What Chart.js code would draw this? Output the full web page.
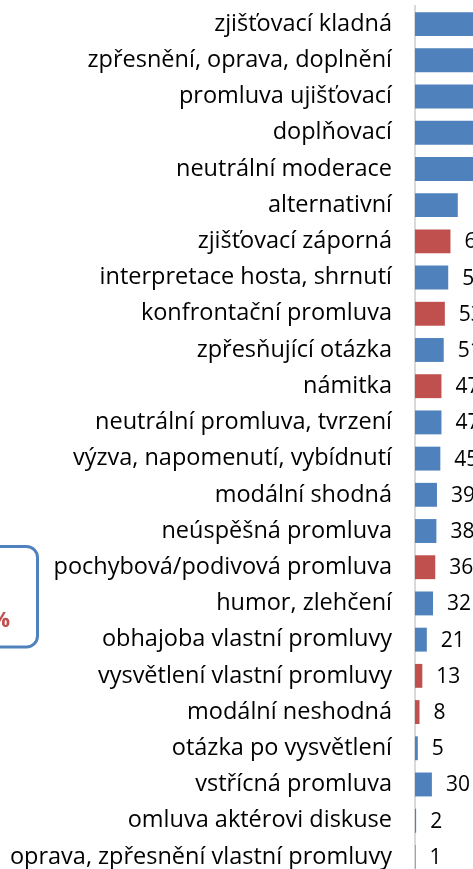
<!DOCTYPE html>
<html>
<head>
<meta charset="utf-8">
<script src="https://cdn.jsdelivr.net/npm/chart.js@4/dist/chart.umd.min.js"></script>
<style>
    html, body { margin: 0; padding: 0; background: #fff; overflow: hidden; }
    #wrap { position: relative; width: 473px; height: 869px; overflow: hidden; }
    #chart { position: absolute; left: 0; top: 0; }
</style>
</head>
<body>
<div id="wrap">
    <canvas id="chart" width="473" height="875"></canvas>
</div>
<script>
    let categories = [
        'zjišťovací kladná', 'zpřesnění, oprava, doplnění', 'promluva ujišťovací', 'doplňovací',
        'neutrální moderace', 'alternativní', 'zjišťovací záporná', 'interpretace hosta, shrnutí',
        'konfrontační promluva', 'zpřesňující otázka', 'námitka', 'neutrální promluva, tvrzení',
        'výzva, napomenutí, vybídnutí', 'modální shodná', 'neúspěšná promluva',
        'pochybová/podivová promluva', 'humor, zlehčení', 'obhajoba vlastní promluvy',
        'vysvětlení vlastní promluvy', 'modální neshodná', 'otázka po vysvětlení',
        'vstřícná promluva', 'omluva aktérovi diskuse', 'oprava, zpřesnění vlastní promluvy'
    ];
    let values = [260, 210, 170, 150, 120, 76, 63, 59, 53, 51, 47, 47, 45, 39, 38, 36, 32, 21, 13, 8, 5, 30, 2, 1];
    // labels shown next to the bars (top ones fall outside the crop)
    let valueLabels = [null, null, null, null, null, null, '63', '59', '53', '51', '47', '47', '45', '39', '38', '36', '32', '21', '13', '8', '5', '30', '2', '1'];
    let redCategories = ['zjišťovací záporná', 'konfrontační promluva', 'námitka',
        'pochybová/podivová promluva', 'vysvětlení vlastní promluvy', 'modální neshodná'];

    let fontFamily = '"Open Sans", sans-serif';
    let fontSize = 23.5;

    let barLabels = {
        id: 'barLabels',
        afterDatasetsDraw: function (chart) {
            let ctx = chart.ctx;
            let meta = chart.getDatasetMeta(0);
            ctx.save();
            ctx.font = '21px ' + fontFamily;
            ctx.fillStyle = '#000';
            ctx.textBaseline = 'middle';
            ctx.textAlign = 'left';
            meta.data.forEach(function (bar, i) {
                if (valueLabels[i] === null) return;
                ctx.fillText(valueLabels[i], bar.x + 14, bar.y + 1);
            });
            ctx.restore();
        }
    };

    // the cut-off text box on the left edge of the crop
    let noteBox = {
        id: 'noteBox',
        afterDraw: function (chart) {
            let ctx = chart.ctx;
            ctx.save();
            ctx.strokeStyle = '#4f81bd';
            ctx.lineWidth = 3;
            ctx.beginPath();
            ctx.roundRect(-60, 546.5, 97.5, 100.5, 11);
            ctx.stroke();
            ctx.font = 'bold 22px ' + fontFamily;
            ctx.fillStyle = '#c0504d';
            ctx.textAlign = 'right';
            ctx.textBaseline = 'middle';
            ctx.fillText('%', 10, 621);
            ctx.restore();
        }
    };

    new Chart(document.getElementById('chart').getContext('2d'), {
        type: 'bar',
        data: {
            labels: categories,
            datasets: [{
                data: values,
                backgroundColor: categories.map(function (c) {
                    return redCategories.indexOf(c) >= 0 ? '#c0504d' : '#4f81bd';
                }),
                categoryPercentage: 1,
                barPercentage: 0.66
            }]
        },
        options: {
            indexAxis: 'y',
            responsive: false,
            animation: false,
            layout: { padding: { top: 6, bottom: 0, right: 0 } },
            plugins: {
                legend: { display: false },
                tooltip: { enabled: false }
            },
            scales: {
                x: {
                    display: false,
                    min: 0,
                    max: 103
                },
                y: {
                    afterFit: function (scale) {
                        scale.width = 415;
                        scale.paddingTop = 0;
                        scale.paddingBottom = 0;
                    },
                    grid: { display: false, drawTicks: false },
                    border: { display: true, color: '#d9d9d9', width: 2 },
                    ticks: {
                        padding: 23,
                        color: '#000',
                        font: { family: fontFamily, size: fontSize }
                    }
                }
            }
        },
        plugins: [barLabels, noteBox]
    });
</script>
</body>
</html>
